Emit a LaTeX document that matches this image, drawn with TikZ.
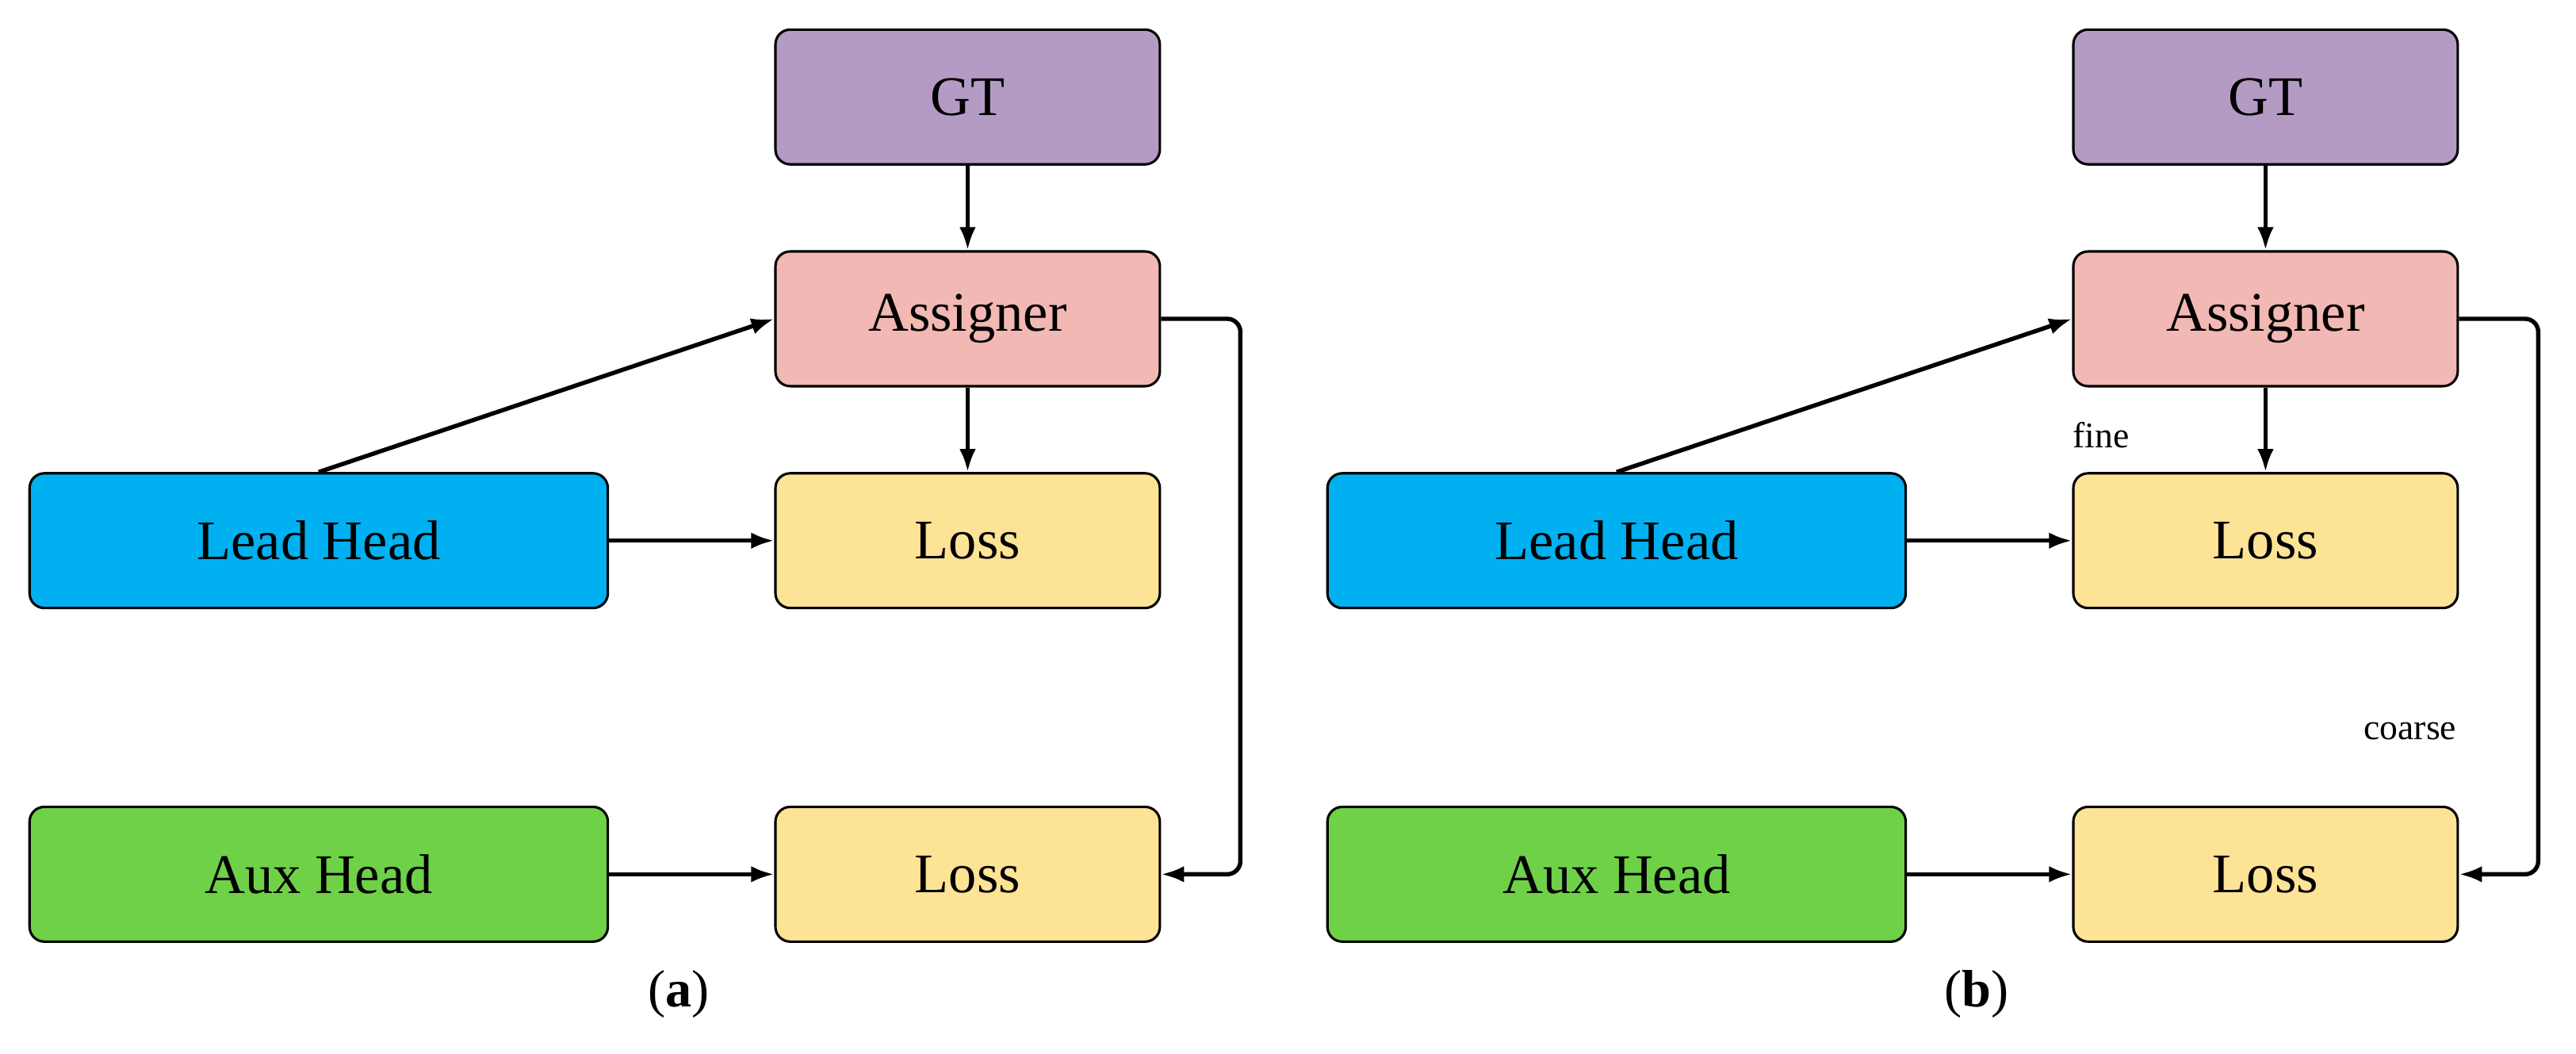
\documentclass[tikz,border=0pt]{standalone}
\usepackage{fontspec}
\setmainfont{Liberation Serif}
\usetikzlibrary{arrows.meta}
\begin{document}
\begin{tikzpicture}[x=1pt,y=-1pt,
 box/.style={draw=black,line width=1.5pt,rounded corners=9pt,font=\fontsize{34}{40}\selectfont,inner sep=0pt},
 sm/.style={box,minimum width=234pt,minimum height=82pt},
 lg/.style={box,minimum width=352pt,minimum height=82pt},
 arr/.style={-{Latex[length=14pt,width=10pt]},line width=2.6pt},
 lbl/.style={font=\fontsize{22}{26}\selectfont}]
\useasboundingbox (0,0) rectangle (1568,641);
\foreach \o/\p in {0/a,790/b}{
\begin{scope}[xshift=\o]
\node[sm,fill={rgb,255:red,179;green,155;blue,196}] (gt\p) at (589,59) {GT};
\node[sm,fill={rgb,255:red,242;green,184;blue,180}] (as\p) at (589,194) {Assigner};
\node[sm,fill={rgb,255:red,252;green,227;blue,150}] (la\p) at (589,329) {Loss};
\node[sm,fill={rgb,255:red,252;green,227;blue,150}] (lb\p) at (589,532) {Loss};
\node[lg,fill={rgb,255:red,0;green,176;blue,240}] (le\p) at (194,329) {Lead Head};
\node[lg,fill={rgb,255:red,111;green,209;blue,71}] (au\p) at (194,532) {Aux Head};
\node[font=\fontsize{32}{38}\selectfont] (cap\p) at (413,605) {(\textbf{\p})};
\draw[arr] (gt\p) -- (as\p);
\draw[arr] (as\p) -- (la\p);
\draw[arr] (le\p) -- (la\p);
\draw[arr] (au\p) -- (lb\p);
\draw[arr] (le\p.north) -- (as\p.west);
\coordinate (c1\p) at (755,194);
\coordinate (c2\p) at (755,532);
\draw[arr,rounded corners=8pt] (as\p.east) -- (c1\p) -- (c2\p) -- (lb\p.east);
\end{scope}}
\node[lbl] (fine) at (1279,265) {fine};
\node[lbl] (coarse) at (1467,445) {coarse};
\end{tikzpicture}
\end{document}
